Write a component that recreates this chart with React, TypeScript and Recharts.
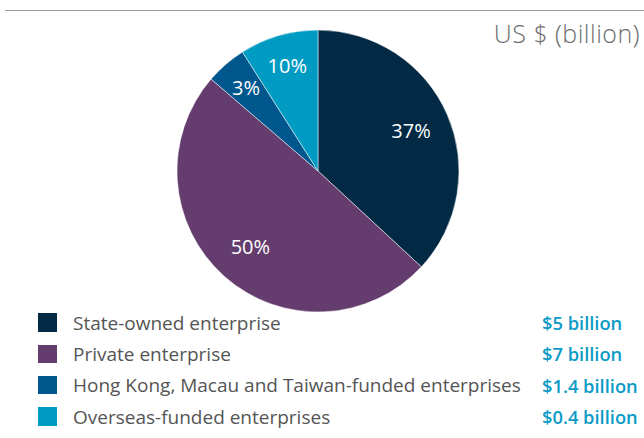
import { PieChart, Pie, Cell, Legend } from "recharts";

const CATEGORIES = [
  "State-owned enterprise",
  "Private enterprise",
  "Hong Kong, Macau and Taiwan-funded enterprises",
  "Overseas-funded enterprises",
];
// slice shares as drawn in the picture
const SHARES = [36.9, 49.4, 4.7, 9.0];
const SLICE_LABELS = ["37%", "50%", "3%", "10%"];
const AMOUNTS = ["$5 billion", "$7 billion", "$1.4 billion", "$0.4 billion"];
const COLORS = ["#032a45", "#643d6e", "#00578e", "#009bc2"];

const data = CATEGORIES.map((name, i) => ({ name, value: SHARES[i] }));

const FONT = "'Open Sans', 'Noto Sans', sans-serif";
const RAD = Math.PI / 180;

const renderLabel = (props: any) => {
  const { cx, cy, midAngle, outerRadius, percent, index } = props;
  const r = percent > 0.2 ? outerRadius * 0.72 : outerRadius * 0.78;
  const x = cx + r * Math.cos(-midAngle * RAD);
  const y = cy + r * Math.sin(-midAngle * RAD);
  return (
    <text
      x={x}
      y={y}
      fill="#ffffff"
      textAnchor="middle"
      dominantBaseline="central"
      style={{ fontFamily: FONT, fontSize: 20 }}
    >
      {SLICE_LABELS[index]}
    </text>
  );
};

const renderLegend = () => (
  <div style={{ fontFamily: FONT }}>
    {CATEGORIES.map((name, i) => (
      <div
        key={name}
        style={{ position: "relative", height: 31.3, display: "flex", alignItems: "center" }}
      >
        <span
          style={{
            position: "absolute",
            left: 38,
            width: 19,
            height: 18.5,
            background: COLORS[i],
          }}
        />
        <span style={{ position: "absolute", left: 73, fontSize: 19, color: "#555555", whiteSpace: "nowrap" }}>
          {name}
        </span>
        <span
          style={{
            position: "absolute",
            left: 542,
            fontSize: 18.3,
            fontWeight: 600,
            color: "#0a9bc6",
            whiteSpace: "nowrap",
          }}
        >
          {AMOUNTS[i]}
        </span>
      </div>
    ))}
  </div>
);

export default function App() {
  return (
    <div style={{ position: "fixed", left: 0, top: 0, width: 644, height: 438, background: "#fff" }}>
      <PieChart
        width={644}
        height={438}
        margin={{ top: 0, right: 0, bottom: 0, left: 0 }}
        style={{ position: "absolute", left: 0, top: 0 }}
      >
        <Pie
          data={data}
          dataKey="value"
          nameKey="name"
          cx={318}
          cy={171}
          outerRadius={141}
          startAngle={90}
          endAngle={-270}
          stroke="#ffffff"
          strokeWidth={0.5}
          label={renderLabel}
          labelLine={false}
          isAnimationActive={false}
        >
          {data.map((d, i) => (
            <Cell key={d.name} fill={COLORS[i]} />
          ))}
        </Pie>
        <Legend
          content={renderLegend}
          wrapperStyle={{ position: "absolute", left: 0, top: 307, width: 644, margin: 0 }}
        />
      </PieChart>
      <div
        style={{
          position: "absolute",
          left: 5,
          width: 639,
          top: 9.5,
          height: 1,
          background: "#9a9a9a",
          zIndex: 2,
        }}
      />
      <div
        style={{
          position: "absolute",
          left: 400,
          width: 240,
          top: 15,
          textAlign: "right",
          whiteSpace: "nowrap",
          fontFamily: "'Open Sans Light', 'Lato Light', " + FONT,
          fontWeight: 300,
          fontSize: 25,
          letterSpacing: 0.5,
          color: "#6e6e6e",
          lineHeight: "36px",
          zIndex: 2,
        }}
      >
        US $ (billion)
      </div>
    </div>
  );
}
